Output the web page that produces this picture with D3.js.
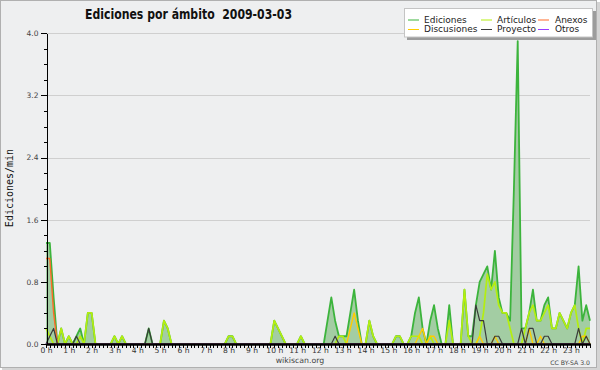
<!DOCTYPE html>
<html><head><meta charset="utf-8">
<script src="https://cdn.jsdelivr.net/npm/d3@7/dist/d3.min.js"></script>
<style>body{margin:0;background:#fff}svg{display:block}</style>
</head><body><svg id="c" width="600" height="370"></svg>
<script>
const chartTitle = "Ediciones por ámbito  2009-03-03";
const yAxisTitle = "Ediciones/min";
const footerText = "wikiscan.org";
const licenseText = "CC BY-SA 3.0";
const seriesNames = ["Ediciones", "Artículos", "Anexos", "Discusiones", "Proyecto", "Otros"];
const seriesColors = ["#3cb43c", "#b4ee10", "#ff6a28", "#ffcc00", "#3a3a3a", "#9a3cff"];
const hourLabels = ["0 h","1 h","2 h","3 h","4 h","5 h","6 h","7 h","8 h","9 h","10 h","11 h",
  "12 h","13 h","14 h","15 h","16 h","17 h","18 h","19 h","20 h","21 h","22 h","23 h"];
const yMajorTicks = [0, 0.8, 1.6, 2.4, 3.2, 4.0];
const yMinorTicks = [0.2,0.4,0.6,1.0,1.2,1.4,1.8,2.0,2.2,2.6,2.8,3.0,3.4,3.6,3.8];

// one value per 10 minutes, six per hour
const ediciones = [
  1.3,1.3,0.6,0,0.2,0,   0.1,0,0.1,0.2,0,0.4,   0.4,0,0,0,0,0,   0.1,0,0.1,0,0,0,
  0,0,0,0.2,0,0,   0,0.3,0.2,0,0,0,   0,0,0,0,0,0,   0,0,0,0,0,0,
  0.1,0.1,0,0,0,0,   0,0,0,0,0,0,   0.3,0.2,0.1,0,0,0,   0,0.1,0,0,0,0,
  0,0,0.3,0.6,0.3,0.1,   0.1,0.1,0.4,0.7,0.3,0,   0,0.3,0.1,0,0,0,   0,0,0.1,0.1,0,0,
  0.1,0.4,0.6,0.2,0,0.3,   0.5,0.2,0,0,0.5,0,   0,0,0.7,0.1,0.1,0.5,   0.8,0.9,1.0,0.7,1.2,0.6,
  0.4,0.4,0.3,2.0,3.9,0.2,   0.2,0.4,0.7,0.3,0.3,0.5,   0.6,0.2,0.2,0.4,0.3,0.2,   0.4,0.5,1.0,0.3,0.5,0.3
];
const articulos = [
  0.2,0.1,0,0,0.2,0,   0.1,0,0,0.1,0,0.4,   0.4,0,0,0,0,0,   0.1,0,0.1,0,0,0,
  0,0,0,0,0,0,   0,0.3,0.2,0,0,0,   0,0,0,0,0,0,   0,0,0,0,0,0,
  0.1,0.1,0,0,0,0,   0,0,0,0,0,0,   0.3,0.2,0.1,0,0,0,   0,0.1,0,0,0,0,
  0,0,0,0,0,0.1,   0.1,0,0,0,0,0,   0,0.3,0.1,0,0,0,   0,0,0.1,0.1,0,0,
  0.1,0.1,0.1,0,0,0.1,   0,0,0,0,0.3,0,   0,0,0.7,0.1,0,0,   0.1,0.4,0.9,0.7,0.8,0.5,
  0.4,0.4,0.2,0,0,0,   0.2,0.4,0.5,0.3,0.3,0.4,   0.5,0.2,0.2,0.4,0.3,0.2,   0.4,0.5,0.2,0,0.2,0.2
];
const anexos = [
  1.1,1.1,0.4,0,0,0,   0,0,0,0,0,0,   0,0,0,0,0,0,   0,0,0,0,0,0,
  0,0,0,0,0,0,   0,0,0,0,0,0,   0,0,0,0,0,0,   0,0,0,0,0,0,
  0,0,0,0,0,0,   0,0,0,0,0,0,   0,0,0,0,0,0,   0,0,0,0,0,0,
  0,0,0,0,0,0,   0,0,0,0,0,0,   0,0,0,0,0,0,   0,0,0,0,0,0,
  0,0,0,0,0,0,   0,0,0,0,0,0,   0,0,0,0,0,0,   0,0,0,0,0,0,
  0,0,0,0,0,0,   0,0,0,0,0,0,   0,0,0,0,0,0,   0,0,0,0,0,0
];
const discusiones = [
  0,0,0,0,0,0,   0,0,0,0,0,0,   0,0,0,0,0,0,   0,0,0,0,0,0,
  0,0,0,0,0,0,   0,0,0,0,0,0,   0,0,0,0,0,0,   0,0,0,0,0,0,
  0,0,0,0,0,0,   0,0,0,0,0,0,   0,0,0,0,0,0,   0,0,0,0,0,0,
  0,0,0,0,0,0,   0,0,0.2,0.4,0.2,0,   0,0,0,0,0,0,   0,0,0,0,0,0,
  0,0,0.1,0.2,0,0.1,   0.1,0,0,0,0,0,   0,0,0,0,0,0,   0.1,0,0,0,0.1,0,
  0,0,0,0,0,0,   0,0.2,0,0,0.1,0,   0,0,0,0,0,0,   0,0,0,0.1,0.1,0
];
const proyecto = [
  0,0.1,0.2,0,0,0,   0,0,0.1,0,0,0,   0,0,0,0,0,0,   0,0,0,0,0,0,
  0,0,0,0.2,0,0,   0,0,0,0,0,0,   0,0,0,0,0,0,   0,0,0,0,0,0,
  0,0,0,0,0,0,   0,0,0,0,0,0,   0,0,0,0,0,0,   0,0,0,0,0,0,
  0,0,0,0,0.1,0,   0,0,0,0,0,0,   0,0,0,0,0,0,   0,0,0,0,0,0,
  0,0,0,0,0,0,   0,0,0,0,0,0,   0,0,0,0,0,0.5,   0.3,0.3,0,0,0.1,0.1,
  0,0,0,0,0,0.2,   0,0.2,0.2,0,0,0.1,   0.1,0,0,0,0,0,   0,0,0.2,0,0.1,0
];
const otros = [
  0,0,0,0,0,0,   0,0,0,0,0,0,   0,0,0,0,0,0,   0,0,0,0,0,0,
  0,0,0,0,0,0,   0,0,0,0,0,0,   0,0,0,0,0,0,   0,0,0,0,0,0,
  0,0,0,0,0,0,   0,0,0,0,0,0,   0,0,0,0,0,0,   0,0,0,0,0,0,
  0,0,0,0,0,0,   0,0,0,0,0,0,   0,0,0,0,0,0,   0,0,0,0,0,0,
  0,0,0,0,0,0,   0,0,0,0,0,0,   0,0,0,0,0,0,   0,0,0,0,0,0,
  0,0,0,0,0,0,   0,0,0,0,0,0,   0,0,0,0,0,0,   0,0,0,0,0,0
];
const seriesValues = [ediciones, articulos, anexos, discusiones, proyecto, otros];
const seriesWidths = [1.8, 1.7, 1.4, 1.4, 1.2, 1.2];

const svg = d3.select("#c");
const font = "'DejaVu Sans', sans-serif";

// background + frame
svg.append("rect").attr("x", 2).attr("y", 2).attr("width", 598).attr("height", 368).attr("fill", "#d4d4d4");
svg.append("rect").attr("x", 0.5).attr("y", 0.5).attr("width", 596).attr("height", 367)
  .attr("fill", "#eeeff0").attr("stroke", "#b0b0b0");

const x = d3.scaleLinear().domain([0, ediciones.length - 1]).range([46, 590]);
const y = d3.scaleLinear().domain([0, 4]).range([344, 33.3]);

// grid
svg.append("g").selectAll("line").data(yMajorTicks.slice(1)).join("line")
  .attr("x1", 46).attr("x2", 590)
  .attr("y1", d => Math.round(y(d)) + 0.5).attr("y2", d => Math.round(y(d)) + 0.5)
  .attr("stroke", "#cfcfcf").attr("stroke-width", 1);

// area under total
const area = d3.area().x((d, i) => x(i)).y0(y(0)).y1(d => y(d));
svg.append("path").datum(ediciones).attr("d", area).attr("fill", "#a3cda3");

// lines
const line = d3.line().x((d, i) => x(i)).y(d => y(d));
seriesValues.forEach((vals, k) => {
  svg.append("path").datum(vals).attr("d", line)
    .attr("fill", "none").attr("stroke", seriesColors[k])
    .attr("stroke-width", seriesWidths[k]).attr("stroke-linejoin", "round");
});

// y axis
const yMinor = svg.append("g").attr("transform", "translate(46.5,0)")
  .call(d3.axisLeft(y).tickValues(yMinorTicks).tickSize(3).tickSizeOuter(0).tickFormat(""));
const yMajor = svg.append("g").attr("transform", "translate(46.5,0)")
  .call(d3.axisLeft(y).tickValues(yMajorTicks).tickSize(6).tickSizeOuter(0).tickPadding(2)
    .tickFormat(d3.format(".1f")));
[yMinor, yMajor].forEach(g => {
  g.selectAll("path,line").attr("stroke", "#000").attr("shape-rendering", "crispEdges");
});
yMajor.selectAll("text").attr("font-family", font).attr("font-size", 7.5).attr("fill", "#444");

// x axis
const xAxisG = svg.append("g").attr("transform", "translate(0,344)")
  .call(d3.axisBottom(x).tickValues(d3.range(0, ediciones.length)).tickSize(4).tickSizeOuter(0)
    .tickFormat(i => (i % 6 === 0 ? hourLabels[i / 6] : "")));
xAxisG.selectAll("line").attr("stroke", "#000").attr("shape-rendering", "crispEdges");
xAxisG.select("path.domain").attr("stroke", "#000").attr("stroke-width", 2.4);
xAxisG.selectAll("text").attr("font-family", font).attr("font-size", 7.6).attr("fill", "#333")
  .attr("y", 3.2);

// axis title
svg.append("text").attr("transform", "translate(13,188) rotate(-90)")
  .attr("text-anchor", "middle").attr("font-family", "'DejaVu Sans Mono', monospace")
  .attr("font-size", 10).attr("fill", "#111").text(yAxisTitle);

// title
svg.append("text").attr("x", 85).attr("y", 19).style("white-space", "pre")
  .attr("font-family", font).attr("font-weight", "bold").attr("font-size", 13.5)
  .attr("textLength", 207).attr("lengthAdjust", "spacingAndGlyphs")
  .attr("fill", "#111").text(chartTitle);

// footer
svg.append("text").attr("x", 300).attr("y", 363).attr("text-anchor", "middle")
  .attr("font-family", font).attr("font-size", 7.8).attr("fill", "#444").text(footerText);
svg.append("text").attr("x", 590).attr("y", 364.5).attr("text-anchor", "end")
  .attr("font-family", font).attr("font-size", 6.2).attr("fill", "#444").text(licenseText);

// legend
const lg = svg.append("g");
lg.append("rect").attr("x", 407).attr("y", 11).attr("width", 189).attr("height", 29).attr("fill", "#9c9c9c");
lg.append("rect").attr("x", 404.5).attr("y", 8.5).attr("width", 188).attr("height", 28.5)
  .attr("fill", "#ffffff").attr("stroke", "#c4c4c4");
const colX = [408, 481, 538];
const textX = [424, 497, 555];
const legendOrder = [0, 1, 2, 3, 4, 5];
legendOrder.forEach((k, j) => {
  const col = j % 3, row = Math.floor(j / 3);
  const ly = 20 + row * 9.5;
  lg.append("line").attr("x1", colX[col]).attr("x2", colX[col] + 11)
    .attr("y1", ly).attr("y2", ly).attr("stroke", seriesColors[k]).attr("stroke-width", 1);
  lg.append("text").attr("x", textX[col]).attr("y", ly + 2.8)
    .attr("font-family", font).attr("font-size", 9).attr("fill", "#222").text(seriesNames[k]);
});
</script>
</body></html>
